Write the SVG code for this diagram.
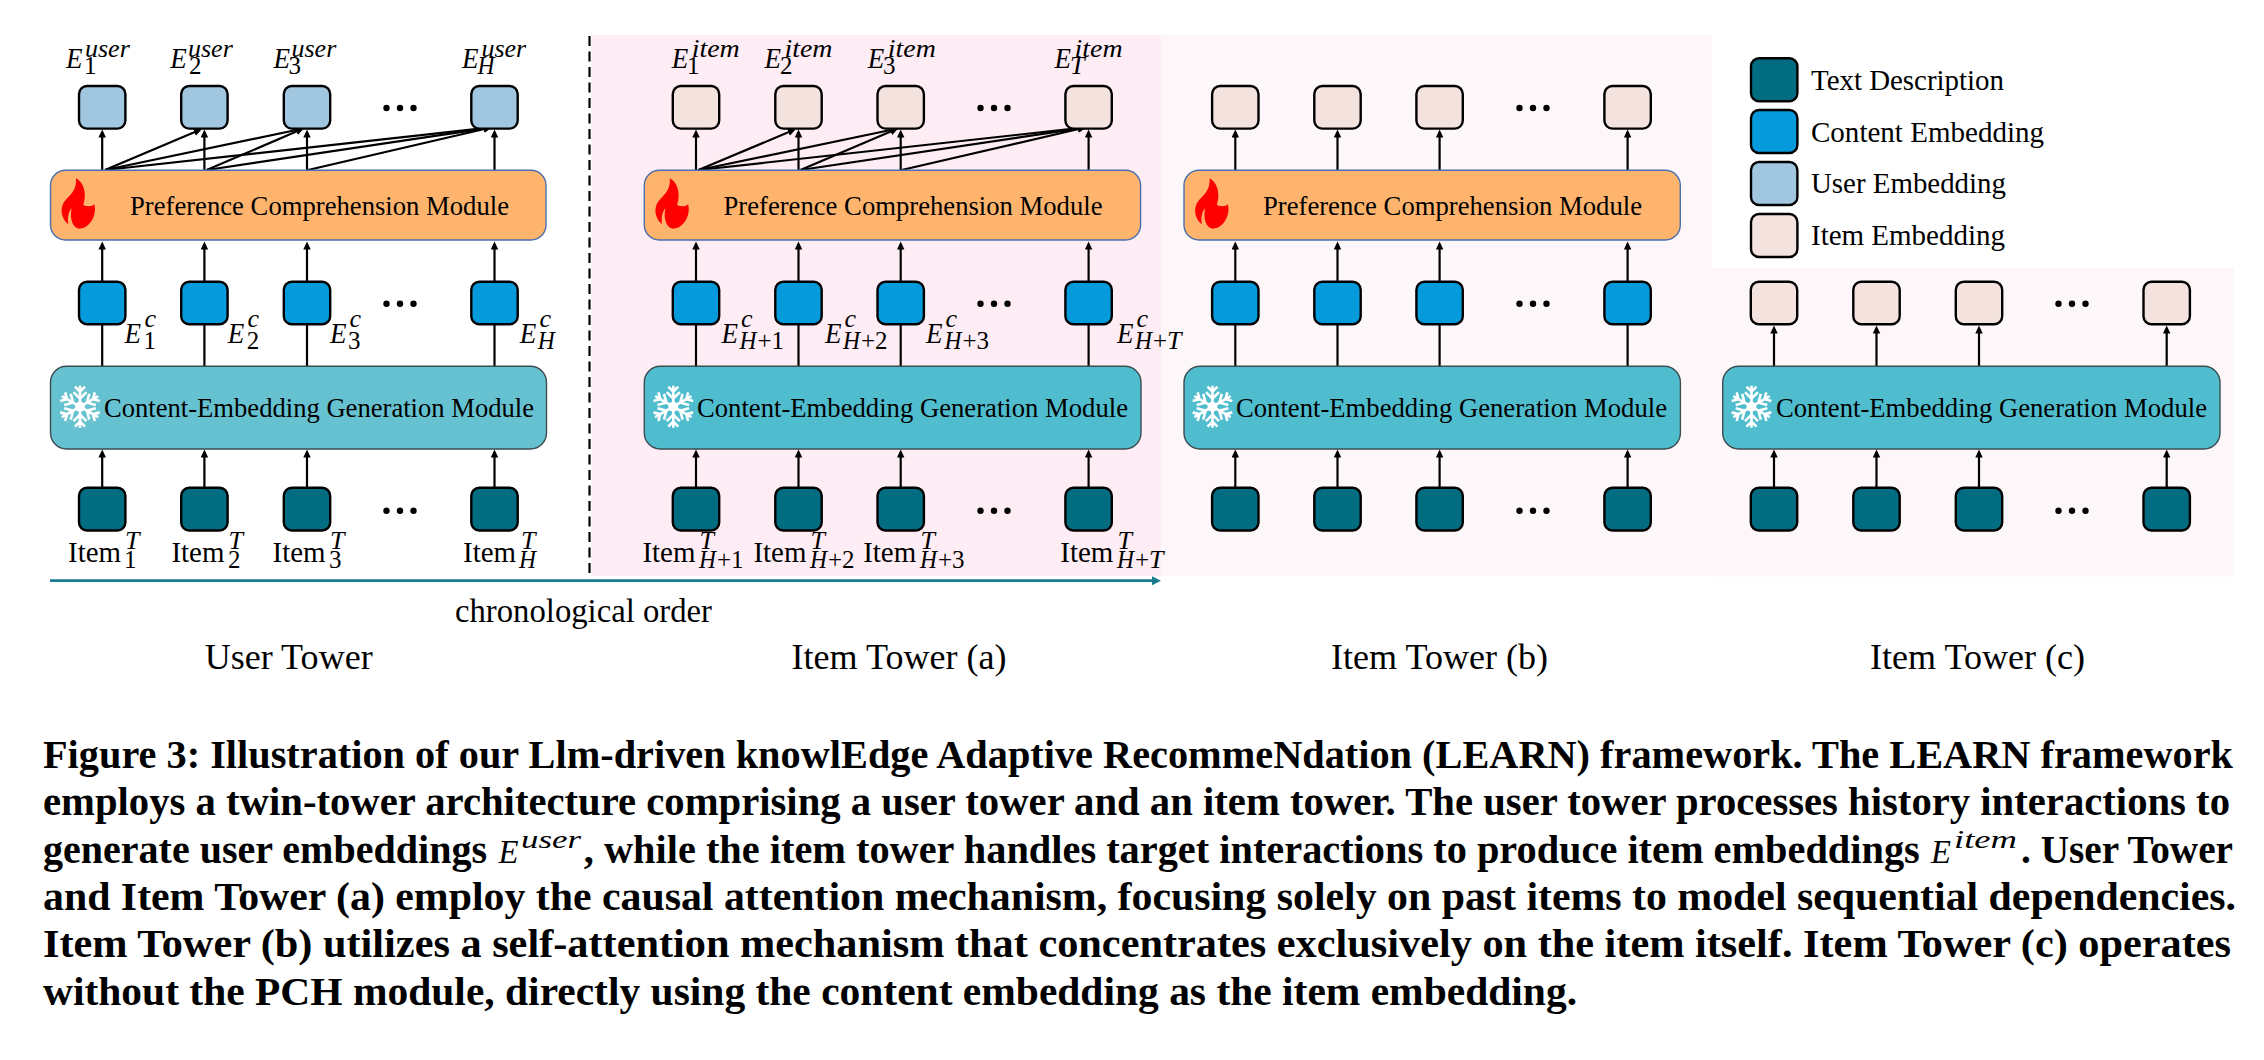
<svg xmlns="http://www.w3.org/2000/svg" xmlns:xlink="http://www.w3.org/1999/xlink" width="2264" height="1060" viewBox="0 0 2264 1060">
<style>
text{font-family:"Liberation Serif","Times New Roman",serif;fill:#000}
.lab{font-size:27px}.leg{font-size:29px}.cap{font-size:39px}.tow{font-size:36px}.chr{font-size:34px}.itm{font-size:29px}
.b{font-weight:bold}
.me{font-size:30px;font-style:italic}.ms{font-size:26px;font-style:italic}.mn{font-size:25px}
.cb{font-size:33px;font-style:italic;font-weight:normal}.cs{font-size:25px;font-style:italic;font-weight:normal}
.sq{stroke:#000;stroke-width:2.4}
.dk{fill:#026C80}.bl{fill:#059ADB}.us{fill:#A1C6E0}.it{fill:#F3E2DE}
.pcm{fill:#FFB46E;stroke:#4A6FAE;stroke-width:1.4}
.cgm{fill:#4FBDCE;stroke:#3C4C50;stroke-width:1.4}
.cgu{fill:#66C2D0;stroke:#3C4C50;stroke-width:1.4}
.ln{stroke:#000;stroke-width:2.2;fill:none}
.ar{stroke:#000;stroke-width:2.2;fill:none;marker-end:url(#h)}
.dg{stroke:#000;stroke-width:2.2;fill:none;marker-end:url(#h)}
.flame{fill:#FF0000}
.arm{stroke:#fff;stroke-width:2.6;fill:none}
.d{fill:#000}
</style>
<defs>
<marker id="h" markerUnits="userSpaceOnUse" markerWidth="9" markerHeight="8" refX="5" refY="3.75" orient="auto"><path d="M0 0L8 3.75L0 7.5z" fill="#000"/></marker>
<marker id="ht" markerUnits="userSpaceOnUse" markerWidth="10" markerHeight="10" refX="3" refY="4.5" orient="auto"><path d="M0 0L9 4.5L0 9z" fill="#1A7A90"/></marker>
<g id="fire"><path class="flame" transform="translate(40 165) scale(.3333)" d="M108 40C130 50 142 85 130 120C140 125 158 125 163 118C172 150 150 190 118 191C98 190 88 160 95 130C85 140 82 160 85 178C68 165 60 140 68 120C78 95 112 85 108 40Z"/></g>
<g id="arm"><path class="arm" d="M0 0V-21M-5 -20L0 -15L5 -20M-6.500 -14.500L0 -8L6.500 -14.500"/></g>
<g id="snow"><use xlink:href="#arm"/><use xlink:href="#arm" transform="rotate(60)"/><use xlink:href="#arm" transform="rotate(120)"/><use xlink:href="#arm" transform="rotate(180)"/><use xlink:href="#arm" transform="rotate(240)"/><use xlink:href="#arm" transform="rotate(300)"/><circle r="5" fill="#fff"/></g>
</defs>
<rect width="2264" height="1060" fill="#fff"/>
<g id="backgrounds">
<rect x="591.500" y="35" width="570" height="541" fill="#FEEDF4"/>
<rect x="1161.500" y="35" width="550.500" height="541" fill="#FEF7F9"/>
<rect x="1712" y="267.700" width="522" height="309" fill="#FEF7F9"/>
</g>
<g id="connectors">
<path d="M589.500 36V573" stroke="#000" stroke-width="2.2" stroke-dasharray="10 5.500" fill="none"/>
<path d="M50 580.700H1155" stroke="#1A7A90" stroke-width="2.8" fill="none" marker-end="url(#ht)"/>
<line class="ar" x1="102.200" y1="170" x2="102.200" y2="132.500"/><line class="ar" x1="204.400" y1="170" x2="204.400" y2="132.500"/><line class="ar" x1="307" y1="170" x2="307" y2="132.500"/><line class="ar" x1="494.500" y1="170" x2="494.500" y2="132.500"/>
<line class="dg" x1="105" y1="170" x2="199" y2="130.300"/><line class="dg" x1="105" y1="170" x2="301" y2="129"/><line class="dg" x1="105" y1="170" x2="488.800" y2="127.600"/><line class="dg" x1="206.600" y1="170" x2="301" y2="129.600"/><line class="dg" x1="206.600" y1="170" x2="488.800" y2="127.900"/><line class="dg" x1="308" y1="170" x2="488.800" y2="128"/>
<line class="ar" x1="102.200" y1="282" x2="102.200" y2="244.500"/><line class="ar" x1="204.400" y1="282" x2="204.400" y2="244.500"/><line class="ar" x1="307" y1="282" x2="307" y2="244.500"/><line class="ar" x1="494.500" y1="282" x2="494.500" y2="244.500"/>
<line class="ln" x1="102.200" y1="324" x2="102.200" y2="366"/><line class="ln" x1="204.400" y1="324" x2="204.400" y2="366"/><line class="ln" x1="307" y1="324" x2="307" y2="366"/><line class="ln" x1="494.500" y1="324" x2="494.500" y2="366"/>
<line class="ar" x1="102.200" y1="488" x2="102.200" y2="452.500"/><line class="ar" x1="204.400" y1="488" x2="204.400" y2="452.500"/><line class="ar" x1="307" y1="488" x2="307" y2="452.500"/><line class="ar" x1="494.500" y1="488" x2="494.500" y2="452.500"/>
<line class="ar" x1="696" y1="170" x2="696" y2="132.500"/><line class="ar" x1="798.500" y1="170" x2="798.500" y2="132.500"/><line class="ar" x1="900.700" y1="170" x2="900.700" y2="132.500"/><line class="ar" x1="1088.600" y1="170" x2="1088.600" y2="132.500"/>
<line class="dg" x1="698.500" y1="170" x2="793" y2="130.300"/><line class="dg" x1="698.500" y1="170" x2="895.400" y2="129"/><line class="dg" x1="698.500" y1="170" x2="1083" y2="127.600"/><line class="dg" x1="800.500" y1="170" x2="895.400" y2="129.600"/><line class="dg" x1="800.500" y1="170" x2="1083" y2="127.900"/><line class="dg" x1="901.700" y1="170" x2="1083" y2="128"/>
<line class="ar" x1="696" y1="282" x2="696" y2="244.500"/><line class="ar" x1="798.500" y1="282" x2="798.500" y2="244.500"/><line class="ar" x1="900.700" y1="282" x2="900.700" y2="244.500"/><line class="ar" x1="1088.600" y1="282" x2="1088.600" y2="244.500"/>
<line class="ln" x1="696" y1="324" x2="696" y2="366"/><line class="ln" x1="798.500" y1="324" x2="798.500" y2="366"/><line class="ln" x1="900.700" y1="324" x2="900.700" y2="366"/><line class="ln" x1="1088.600" y1="324" x2="1088.600" y2="366"/>
<line class="ar" x1="696" y1="488" x2="696" y2="452.500"/><line class="ar" x1="798.500" y1="488" x2="798.500" y2="452.500"/><line class="ar" x1="900.700" y1="488" x2="900.700" y2="452.500"/><line class="ar" x1="1088.600" y1="488" x2="1088.600" y2="452.500"/>
<line class="ar" x1="1235.300" y1="170" x2="1235.300" y2="132.500"/><line class="ar" x1="1337.500" y1="170" x2="1337.500" y2="132.500"/><line class="ar" x1="1439.600" y1="170" x2="1439.600" y2="132.500"/><line class="ar" x1="1627.600" y1="170" x2="1627.600" y2="132.500"/>
<line class="ar" x1="1235.300" y1="282" x2="1235.300" y2="244.500"/><line class="ar" x1="1337.500" y1="282" x2="1337.500" y2="244.500"/><line class="ar" x1="1439.600" y1="282" x2="1439.600" y2="244.500"/><line class="ar" x1="1627.600" y1="282" x2="1627.600" y2="244.500"/>
<line class="ln" x1="1235.300" y1="324" x2="1235.300" y2="366"/><line class="ln" x1="1337.500" y1="324" x2="1337.500" y2="366"/><line class="ln" x1="1439.600" y1="324" x2="1439.600" y2="366"/><line class="ln" x1="1627.600" y1="324" x2="1627.600" y2="366"/>
<line class="ar" x1="1235.300" y1="488" x2="1235.300" y2="452.500"/><line class="ar" x1="1337.500" y1="488" x2="1337.500" y2="452.500"/><line class="ar" x1="1439.600" y1="488" x2="1439.600" y2="452.500"/><line class="ar" x1="1627.600" y1="488" x2="1627.600" y2="452.500"/>
<line class="ar" x1="1774" y1="366" x2="1774" y2="328.500"/><line class="ar" x1="1876.500" y1="366" x2="1876.500" y2="328.500"/><line class="ar" x1="1979" y1="366" x2="1979" y2="328.500"/><line class="ar" x1="2166.700" y1="366" x2="2166.700" y2="328.500"/>
<line class="ar" x1="1774" y1="488" x2="1774" y2="452.500"/><line class="ar" x1="1876.500" y1="488" x2="1876.500" y2="452.500"/><line class="ar" x1="1979" y1="488" x2="1979" y2="452.500"/><line class="ar" x1="2166.700" y1="488" x2="2166.700" y2="452.500"/>
</g>
<g id="user-tower">
<g id="u-out-1"><rect class="sq us" x="79" y="86" width="46.400" height="42.600" rx="8"/><text x="66" y="68"><tspan class="me" textLength="16.500" lengthAdjust="spacingAndGlyphs">E</tspan><tspan class="ms" x="85" y="56.700">user</tspan><tspan class="mn" x="84" y="74">1</tspan></text></g>
<g id="u-out-2"><rect class="sq us" x="181.200" y="86" width="46.400" height="42.600" rx="8"/><text x="170.300" y="68"><tspan class="me" textLength="16.500" lengthAdjust="spacingAndGlyphs">E</tspan><tspan class="ms" x="188" y="56.700">user</tspan><tspan class="mn" x="189" y="74">2</tspan></text></g>
<g id="u-out-3"><rect class="sq us" x="283.800" y="86" width="46.400" height="42.600" rx="8"/><text x="273.600" y="68"><tspan class="me" textLength="16.500" lengthAdjust="spacingAndGlyphs">E</tspan><tspan class="ms" x="291.500" y="56.700">user</tspan><tspan class="mn" x="288.500" y="74">3</tspan></text></g>
<g id="u-out-H"><rect class="sq us" x="471.300" y="86" width="46.400" height="42.600" rx="8"/><text x="462" y="68"><tspan class="me" textLength="16.500" lengthAdjust="spacingAndGlyphs">E</tspan><tspan class="ms" x="481.400" y="56.700">user</tspan><tspan class="ms" x="477.600" y="74" textLength="17" lengthAdjust="spacingAndGlyphs">H</tspan></text></g>
<g id="u-pcm"><rect class="pcm" x="50.500" y="170.300" width="495.500" height="69.700" rx="15"/><use xlink:href="#fire"/><text class="lab" x="130" y="215" textLength="379" lengthAdjust="spacingAndGlyphs">Preference Comprehension Module</text></g>
<g id="u-c-1"><rect class="sq bl" x="79" y="281.700" width="46.400" height="42.600" rx="8"/><text x="124.400" y="342.700"><tspan class="me" textLength="16.500" lengthAdjust="spacingAndGlyphs">E</tspan><tspan class="ms" x="144.600" y="326.700">c</tspan><tspan class="mn" x="143.500" y="348.500">1</tspan></text></g>
<g id="u-c-2"><rect class="sq bl" x="181.200" y="281.700" width="46.400" height="42.600" rx="8"/><text x="227.700" y="342.700"><tspan class="me" textLength="16.500" lengthAdjust="spacingAndGlyphs">E</tspan><tspan class="ms" x="247.500" y="326.700">c</tspan><tspan class="mn" x="246.800" y="348.500">2</tspan></text></g>
<g id="u-c-3"><rect class="sq bl" x="283.800" y="281.700" width="46.400" height="42.600" rx="8"/><text x="330" y="342.700"><tspan class="me" textLength="16.500" lengthAdjust="spacingAndGlyphs">E</tspan><tspan class="ms" x="349.500" y="326.700">c</tspan><tspan class="mn" x="348" y="348.500">3</tspan></text></g>
<g id="u-c-H"><rect class="sq bl" x="471.300" y="281.700" width="46.400" height="42.600" rx="8"/><text x="519.700" y="342.700"><tspan class="me" textLength="16.500" lengthAdjust="spacingAndGlyphs">E</tspan><tspan class="ms" x="539.500" y="326.700">c</tspan><tspan class="ms" x="537.700" y="348.500" textLength="17" lengthAdjust="spacingAndGlyphs">H</tspan></text></g>
<g id="u-cgm"><rect class="cgu" x="50.500" y="366.300" width="496" height="82.700" rx="16"/><use xlink:href="#snow" x="80" y="406.700"/><text class="lab" x="104" y="417" textLength="430" lengthAdjust="spacingAndGlyphs">Content-Embedding Generation Module</text></g>
<g id="u-t-1"><rect class="sq dk" x="79" y="487.700" width="46.400" height="42.800" rx="8"/><text x="68" y="561.700"><tspan class="itm" textLength="53" lengthAdjust="spacingAndGlyphs">Item</tspan><tspan class="ms" x="125" y="549">T</tspan><tspan class="mn" x="124" y="568">1</tspan></text></g>
<g id="u-t-2"><rect class="sq dk" x="181.200" y="487.700" width="46.400" height="42.800" rx="8"/><text x="171.400" y="561.700"><tspan class="itm" textLength="53" lengthAdjust="spacingAndGlyphs">Item</tspan><tspan class="ms" x="228.500" y="549">T</tspan><tspan class="mn" x="228" y="568">2</tspan></text></g>
<g id="u-t-3"><rect class="sq dk" x="283.800" y="487.700" width="46.400" height="42.800" rx="8"/><text x="272.500" y="561.700"><tspan class="itm" textLength="53" lengthAdjust="spacingAndGlyphs">Item</tspan><tspan class="ms" x="330" y="549">T</tspan><tspan class="mn" x="329" y="568">3</tspan></text></g>
<g id="u-t-H"><rect class="sq dk" x="471.300" y="487.700" width="46.400" height="42.800" rx="8"/><text x="463" y="561.700"><tspan class="itm" textLength="53" lengthAdjust="spacingAndGlyphs">Item</tspan><tspan class="ms" x="521" y="549">T</tspan><tspan class="ms" x="519" y="568" textLength="17" lengthAdjust="spacingAndGlyphs">H</tspan></text></g>
<g id="u-dots"><circle class="d" cx="386.500" cy="108" r="3.200"/><circle class="d" cx="400" cy="108" r="3.200"/><circle class="d" cx="413.500" cy="108" r="3.200"/><circle class="d" cx="386.500" cy="303.700" r="3.200"/><circle class="d" cx="400" cy="303.700" r="3.200"/><circle class="d" cx="413.500" cy="303.700" r="3.200"/><circle class="d" cx="386.500" cy="510.700" r="3.200"/><circle class="d" cx="400" cy="510.700" r="3.200"/><circle class="d" cx="413.500" cy="510.700" r="3.200"/></g>
</g>
<g id="item-tower-a">
<g id="a-out-1"><rect class="sq it" x="672.800" y="86" width="46.400" height="42.600" rx="8"/><text x="671.800" y="68"><tspan class="me" textLength="16.500" lengthAdjust="spacingAndGlyphs">E</tspan><tspan class="ms" x="691.700" y="56.700" textLength="48" lengthAdjust="spacingAndGlyphs">item</tspan><tspan class="mn" x="687" y="74">1</tspan></text></g>
<g id="a-out-2"><rect class="sq it" x="775.300" y="86" width="46.400" height="42.600" rx="8"/><text x="764.500" y="68"><tspan class="me" textLength="16.500" lengthAdjust="spacingAndGlyphs">E</tspan><tspan class="ms" x="784.500" y="56.700" textLength="48" lengthAdjust="spacingAndGlyphs">item</tspan><tspan class="mn" x="780" y="74">2</tspan></text></g>
<g id="a-out-3"><rect class="sq it" x="877.500" y="86" width="46.400" height="42.600" rx="8"/><text x="867.800" y="68"><tspan class="me" textLength="16.500" lengthAdjust="spacingAndGlyphs">E</tspan><tspan class="ms" x="887.800" y="56.700" textLength="48" lengthAdjust="spacingAndGlyphs">item</tspan><tspan class="mn" x="883" y="74">3</tspan></text></g>
<g id="a-out-T"><rect class="sq it" x="1065.400" y="86" width="46.400" height="42.600" rx="8"/><text x="1054.600" y="68"><tspan class="me" textLength="16.500" lengthAdjust="spacingAndGlyphs">E</tspan><tspan class="ms" x="1074.600" y="56.700" textLength="48" lengthAdjust="spacingAndGlyphs">item</tspan><tspan class="ms" x="1070" y="74">T</tspan></text></g>
<g id="a-pcm"><rect class="pcm" x="644.300" y="170.300" width="496.300" height="69.700" rx="15"/><use xlink:href="#fire" x="593.800"/><text class="lab" x="723.500" y="215" textLength="379" lengthAdjust="spacingAndGlyphs">Preference Comprehension Module</text></g>
<g id="a-c-1"><rect class="sq bl" x="672.800" y="281.700" width="46.400" height="42.600" rx="8"/><text x="721.600" y="342.700"><tspan class="me" textLength="16.500" lengthAdjust="spacingAndGlyphs">E</tspan><tspan class="ms" x="741" y="326.700">c</tspan><tspan class="ms" x="739.500" y="348.500" textLength="17" lengthAdjust="spacingAndGlyphs">H</tspan><tspan class="mn" dx="1">+1</tspan></text></g>
<g id="a-c-2"><rect class="sq bl" x="775.300" y="281.700" width="46.400" height="42.600" rx="8"/><text x="825" y="342.700"><tspan class="me" textLength="16.500" lengthAdjust="spacingAndGlyphs">E</tspan><tspan class="ms" x="844.500" y="326.700">c</tspan><tspan class="ms" x="843" y="348.500" textLength="17" lengthAdjust="spacingAndGlyphs">H</tspan><tspan class="mn" dx="1">+2</tspan></text></g>
<g id="a-c-3"><rect class="sq bl" x="877.500" y="281.700" width="46.400" height="42.600" rx="8"/><text x="926" y="342.700"><tspan class="me" textLength="16.500" lengthAdjust="spacingAndGlyphs">E</tspan><tspan class="ms" x="945.500" y="326.700">c</tspan><tspan class="ms" x="944.500" y="348.500" textLength="17" lengthAdjust="spacingAndGlyphs">H</tspan><tspan class="mn" dx="1">+3</tspan></text></g>
<g id="a-c-T"><rect class="sq bl" x="1065.400" y="281.700" width="46.400" height="42.600" rx="8"/><text x="1117" y="342.700"><tspan class="me" textLength="16.500" lengthAdjust="spacingAndGlyphs">E</tspan><tspan class="ms" x="1136.500" y="326.700">c</tspan><tspan class="ms" x="1135" y="348.500" textLength="17" lengthAdjust="spacingAndGlyphs">H</tspan><tspan class="mn" dx="1">+</tspan><tspan class="ms">T</tspan></text></g>
<g id="a-cgm"><rect class="cgm" x="644.300" y="366.300" width="496.700" height="82.700" rx="16"/><use xlink:href="#snow" x="673.300" y="406.700"/><text class="lab" x="697" y="417" textLength="431" lengthAdjust="spacingAndGlyphs">Content-Embedding Generation Module</text></g>
<g id="a-t-1"><rect class="sq dk" x="672.800" y="487.700" width="46.400" height="42.800" rx="8"/><text x="642.400" y="561.700"><tspan class="itm" textLength="53" lengthAdjust="spacingAndGlyphs">Item</tspan><tspan class="ms" x="699.500" y="549">T</tspan><tspan class="ms" x="699" y="568" textLength="17" lengthAdjust="spacingAndGlyphs">H</tspan><tspan class="mn" dx="1">+1</tspan></text></g>
<g id="a-t-2"><rect class="sq dk" x="775.300" y="487.700" width="46.400" height="42.800" rx="8"/><text x="753.400" y="561.700"><tspan class="itm" textLength="53" lengthAdjust="spacingAndGlyphs">Item</tspan><tspan class="ms" x="810.500" y="549">T</tspan><tspan class="ms" x="810" y="568" textLength="17" lengthAdjust="spacingAndGlyphs">H</tspan><tspan class="mn" dx="1">+2</tspan></text></g>
<g id="a-t-3"><rect class="sq dk" x="877.500" y="487.700" width="46.400" height="42.800" rx="8"/><text x="863.200" y="561.700"><tspan class="itm" textLength="53" lengthAdjust="spacingAndGlyphs">Item</tspan><tspan class="ms" x="920.500" y="549">T</tspan><tspan class="ms" x="920" y="568" textLength="17" lengthAdjust="spacingAndGlyphs">H</tspan><tspan class="mn" dx="1">+3</tspan></text></g>
<g id="a-t-T"><rect class="sq dk" x="1065.400" y="487.700" width="46.400" height="42.800" rx="8"/><text x="1060.300" y="561.700"><tspan class="itm" textLength="53" lengthAdjust="spacingAndGlyphs">Item</tspan><tspan class="ms" x="1117.500" y="549">T</tspan><tspan class="ms" x="1117" y="568" textLength="17" lengthAdjust="spacingAndGlyphs">H</tspan><tspan class="mn" dx="1">+</tspan><tspan class="ms">T</tspan></text></g>
<g id="a-dots"><circle class="d" cx="980.500" cy="108" r="3.200"/><circle class="d" cx="994" cy="108" r="3.200"/><circle class="d" cx="1007.500" cy="108" r="3.200"/><circle class="d" cx="980.500" cy="303.700" r="3.200"/><circle class="d" cx="994" cy="303.700" r="3.200"/><circle class="d" cx="1007.500" cy="303.700" r="3.200"/><circle class="d" cx="980.500" cy="510.700" r="3.200"/><circle class="d" cx="994" cy="510.700" r="3.200"/><circle class="d" cx="1007.500" cy="510.700" r="3.200"/></g>
</g>
<g id="item-tower-b">
<g id="b-out-1"><rect class="sq it" x="1212.100" y="86" width="46.400" height="42.600" rx="8"/></g>
<g id="b-out-2"><rect class="sq it" x="1314.300" y="86" width="46.400" height="42.600" rx="8"/></g>
<g id="b-out-3"><rect class="sq it" x="1416.400" y="86" width="46.400" height="42.600" rx="8"/></g>
<g id="b-out-4"><rect class="sq it" x="1604.400" y="86" width="46.400" height="42.600" rx="8"/></g>
<g id="b-pcm"><rect class="pcm" x="1184" y="170.300" width="496.300" height="69.700" rx="15"/><use xlink:href="#fire" x="1133.500"/><text class="lab" x="1263" y="215" textLength="379" lengthAdjust="spacingAndGlyphs">Preference Comprehension Module</text></g>
<g id="b-c-1"><rect class="sq bl" x="1212.100" y="281.700" width="46.400" height="42.600" rx="8"/></g>
<g id="b-c-2"><rect class="sq bl" x="1314.300" y="281.700" width="46.400" height="42.600" rx="8"/></g>
<g id="b-c-3"><rect class="sq bl" x="1416.400" y="281.700" width="46.400" height="42.600" rx="8"/></g>
<g id="b-c-4"><rect class="sq bl" x="1604.400" y="281.700" width="46.400" height="42.600" rx="8"/></g>
<g id="b-cgm"><rect class="cgm" x="1184" y="366.300" width="496.400" height="82.700" rx="16"/><use xlink:href="#snow" x="1212.500" y="406.700"/><text class="lab" x="1236" y="417" textLength="431" lengthAdjust="spacingAndGlyphs">Content-Embedding Generation Module</text></g>
<g id="b-t-1"><rect class="sq dk" x="1212.100" y="487.700" width="46.400" height="42.800" rx="8"/></g>
<g id="b-t-2"><rect class="sq dk" x="1314.300" y="487.700" width="46.400" height="42.800" rx="8"/></g>
<g id="b-t-3"><rect class="sq dk" x="1416.400" y="487.700" width="46.400" height="42.800" rx="8"/></g>
<g id="b-t-4"><rect class="sq dk" x="1604.400" y="487.700" width="46.400" height="42.800" rx="8"/></g>
<g id="b-dots"><circle class="d" cx="1519.500" cy="108" r="3.200"/><circle class="d" cx="1533" cy="108" r="3.200"/><circle class="d" cx="1546.500" cy="108" r="3.200"/><circle class="d" cx="1519.500" cy="303.700" r="3.200"/><circle class="d" cx="1533" cy="303.700" r="3.200"/><circle class="d" cx="1546.500" cy="303.700" r="3.200"/><circle class="d" cx="1519.500" cy="510.700" r="3.200"/><circle class="d" cx="1533" cy="510.700" r="3.200"/><circle class="d" cx="1546.500" cy="510.700" r="3.200"/></g>
</g>
<g id="item-tower-c">
<g id="c-out-1"><rect class="sq it" x="1750.800" y="281.700" width="46.400" height="42.600" rx="8"/></g>
<g id="c-out-2"><rect class="sq it" x="1853.300" y="281.700" width="46.400" height="42.600" rx="8"/></g>
<g id="c-out-3"><rect class="sq it" x="1955.800" y="281.700" width="46.400" height="42.600" rx="8"/></g>
<g id="c-out-4"><rect class="sq it" x="2143.500" y="281.700" width="46.400" height="42.600" rx="8"/></g>
<g id="c-cgm"><rect class="cgm" x="1722.700" y="366.300" width="497.300" height="82.700" rx="16"/><use xlink:href="#snow" x="1751.500" y="406.700"/><text class="lab" x="1776" y="417" textLength="431" lengthAdjust="spacingAndGlyphs">Content-Embedding Generation Module</text></g>
<g id="c-t-1"><rect class="sq dk" x="1750.800" y="487.700" width="46.400" height="42.800" rx="8"/></g>
<g id="c-t-2"><rect class="sq dk" x="1853.300" y="487.700" width="46.400" height="42.800" rx="8"/></g>
<g id="c-t-3"><rect class="sq dk" x="1955.800" y="487.700" width="46.400" height="42.800" rx="8"/></g>
<g id="c-t-4"><rect class="sq dk" x="2143.500" y="487.700" width="46.400" height="42.800" rx="8"/></g>
<g id="c-dots"><circle class="d" cx="2058.500" cy="303.700" r="3.200"/><circle class="d" cx="2072" cy="303.700" r="3.200"/><circle class="d" cx="2085.500" cy="303.700" r="3.200"/><circle class="d" cx="2058.500" cy="510.700" r="3.200"/><circle class="d" cx="2072" cy="510.700" r="3.200"/><circle class="d" cx="2085.500" cy="510.700" r="3.200"/></g>
</g>
<g id="legend">
<g id="leg-text"><rect class="sq dk" x="1751" y="58.300" width="46.400" height="43" rx="8"/><text class="leg" x="1811" y="90" textLength="193" lengthAdjust="spacingAndGlyphs">Text Description</text></g>
<g id="leg-content"><rect class="sq bl" x="1751" y="110" width="46.400" height="43" rx="8"/><text class="leg" x="1811" y="141.700" textLength="233" lengthAdjust="spacingAndGlyphs">Content Embedding</text></g>
<g id="leg-user"><rect class="sq us" x="1751" y="162" width="46.400" height="43" rx="8"/><text class="leg" x="1811" y="193" textLength="195" lengthAdjust="spacingAndGlyphs">User Embedding</text></g>
<g id="leg-item"><rect class="sq it" x="1751" y="214" width="46.400" height="43" rx="8"/><text class="leg" x="1811" y="245" textLength="194" lengthAdjust="spacingAndGlyphs">Item Embedding</text></g>
</g>
<g id="labels">
<text class="chr" x="455" y="621.700" textLength="257" lengthAdjust="spacingAndGlyphs">chronological order</text>
<text class="tow" x="204.700" y="669" textLength="168" lengthAdjust="spacingAndGlyphs">User Tower</text>
<text class="tow" x="791.600" y="669" textLength="215" lengthAdjust="spacingAndGlyphs">Item Tower (a)</text>
<text class="tow" x="1331" y="669" textLength="217" lengthAdjust="spacingAndGlyphs">Item Tower (b)</text>
<text class="tow" x="1870" y="669" textLength="215" lengthAdjust="spacingAndGlyphs">Item Tower (c)</text>
</g>
<g id="caption">
<text class="cap b" x="43" y="767.700" textLength="2190" lengthAdjust="spacingAndGlyphs">Figure 3: Illustration of our Llm-driven knowlEdge Adaptive RecommeNdation (LEARN) framework. The LEARN framework</text>
<text class="cap b" x="43" y="815" textLength="2187" lengthAdjust="spacingAndGlyphs">employs a twin-tower architecture comprising a user tower and an item tower. The user tower processes history interactions to</text>
<text class="cap b" x="43" y="862.700" textLength="444" lengthAdjust="spacingAndGlyphs">generate user embeddings</text>
<text x="498.600" y="862.700"><tspan class="cb" textLength="20" lengthAdjust="spacingAndGlyphs">E</tspan><tspan class="cs" x="521" y="848" textLength="60" lengthAdjust="spacingAndGlyphs">user</tspan></text>
<text class="cap b" x="583.800" y="862.700" textLength="1336" lengthAdjust="spacingAndGlyphs">, while the item tower handles target interactions to produce item embeddings</text>
<text x="1931" y="862.700"><tspan class="cb" textLength="20" lengthAdjust="spacingAndGlyphs">E</tspan><tspan class="cs" x="1954" y="848" textLength="63" lengthAdjust="spacingAndGlyphs">item</tspan></text>
<text class="cap b" x="2021" y="862.700" textLength="212" lengthAdjust="spacingAndGlyphs">. User Tower</text>
<text class="cap b" x="43" y="910" textLength="2193" lengthAdjust="spacingAndGlyphs">and Item Tower (a) employ the causal attention mechanism, focusing solely on past items to model sequential dependencies.</text>
<text class="cap b" x="43" y="957" textLength="2188" lengthAdjust="spacingAndGlyphs">Item Tower (b) utilizes a self-attention mechanism that concentrates exclusively on the item itself. Item Tower (c) operates</text>
<text class="cap b" x="43" y="1005" textLength="1534" lengthAdjust="spacingAndGlyphs">without the PCH module, directly using the content embedding as the item embedding.</text>
</g>
</svg>
